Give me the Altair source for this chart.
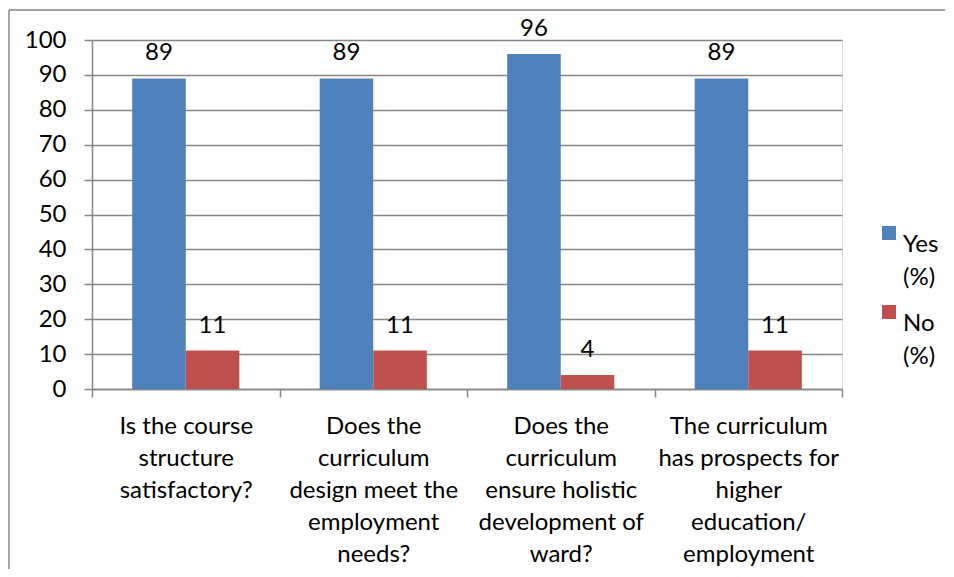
import altair as alt
import pandas as pd

categories = [
    "Is the course\nstructure\nsatisfactory?",
    "Does the\ncurriculum\ndesign meet the\nemployment\nneeds?",
    "Does the\ncurriculum\nensure holistic\ndevelopment of\nward?",
    "The curriculum\nhas prospects for\nhigher\neducation/\nemployment",
]
series = ["Yes\n(%)", "No\n(%)"]
yes_values = [89, 89, 96, 89]
no_values = [11, 11, 4, 11]
colors = ["#4F81BD", "#C0504D"]
y_ticks = [0, 10, 20, 30, 40, 50, 60, 70, 80, 90, 100]

rows = []
for c, yv, nv in zip(categories, yes_values, no_values):
    rows.append({"q": c, "s": series[0], "v": yv})
    rows.append({"q": c, "s": series[1], "v": nv})
df = pd.DataFrame(rows)

FONT = "Lato"
FS = 24
GRAY = "#868686"
W, H = 750, 349

x_enc = alt.X(
    "q:N",
    sort=categories,
    scale=alt.Scale(paddingInner=0, paddingOuter=0),
    axis=alt.Axis(
        title=None,
        labelAngle=0,
        labelExpr="split(datum.label, '\\n')",
        labelLineHeight=32,
        labelBaseline="top",
        labelPadding=17,
        labelFont=FONT,
        labelFontSize=FS,
        labelColor="#000000",
        tickBand="extent",
        tickSize=8,
        tickColor=GRAY,
        tickWidth=1.5,
        domainColor=GRAY,
        domainWidth=1.5,
        grid=False,
        labelLimit=300,
    ),
)
xo_enc = alt.XOffset(
    "s:N", sort=series, scale=alt.Scale(paddingInner=0, paddingOuter=0.75)
)
y_enc = alt.Y(
    "v:Q",
    scale=alt.Scale(domain=[0, 100], nice=False),
    axis=alt.Axis(
        title=None,
        values=y_ticks,
        labelOverlap=False,
        labelFont=FONT,
        labelFontSize=FS,
        labelColor="#000000",
        labelPadding=18,
        tickSize=8,
        tickColor=GRAY,
        tickWidth=1.5,
        domainColor=GRAY,
        domainWidth=1.5,
        gridColor=GRAY,
        gridWidth=1.5,
    ),
)

bars = alt.Chart(df).mark_bar().encode(
    x=x_enc,
    xOffset=xo_enc,
    y=y_enc,
    color=alt.Color(
        "s:N",
        sort=series,
        scale=alt.Scale(domain=series, range=colors),
        legend=alt.Legend(
            title=None,
            orient="none",
            legendX=785,
            legendY=181,
            symbolType="square",
            symbolSize=196,
            symbolStrokeWidth=0,
            labelFont=FONT,
            labelFontSize=FS,
            labelColor="#000000",
            labelExpr="split(datum.label, '\\n')",
            labelBaseline="top",
            labelOffset=2,
            rowPadding=10,
        ),
    ),
)

labels = alt.Chart(df).mark_text(
    font=FONT, fontSize=FS, color="#000000", baseline="middle", dy=-25
).encode(
    x=x_enc,
    xOffset=xo_enc,
    y=y_enc,
    text=alt.Text("v:Q"),
)

frame_data = pd.DataFrame({"a": [0]})
border_left = alt.Chart(frame_data).mark_rule(color=GRAY, strokeWidth=1.5).encode(
    x=alt.value(-83), y=alt.value(-30), y2=alt.value(H + 300)
)
border_top = alt.Chart(frame_data).mark_rule(color=GRAY, strokeWidth=1.5).encode(
    y=alt.value(-30), x=alt.value(-83), x2=alt.value(W + 300)
)

chart = (
    alt.layer(bars, labels, border_left, border_top)
    .properties(
        width=W,
        height=H,
        autosize=alt.AutoSizeParams(type="none"),
        padding={"left": 84, "top": 32, "right": 103, "bottom": 180},
    )
    .configure_view(stroke=None)
    .configure(style={"guide-label": {"lineHeight": 33}})
)

chart.save("out.html", embed_options={"renderer": "svg", "actions": False})
